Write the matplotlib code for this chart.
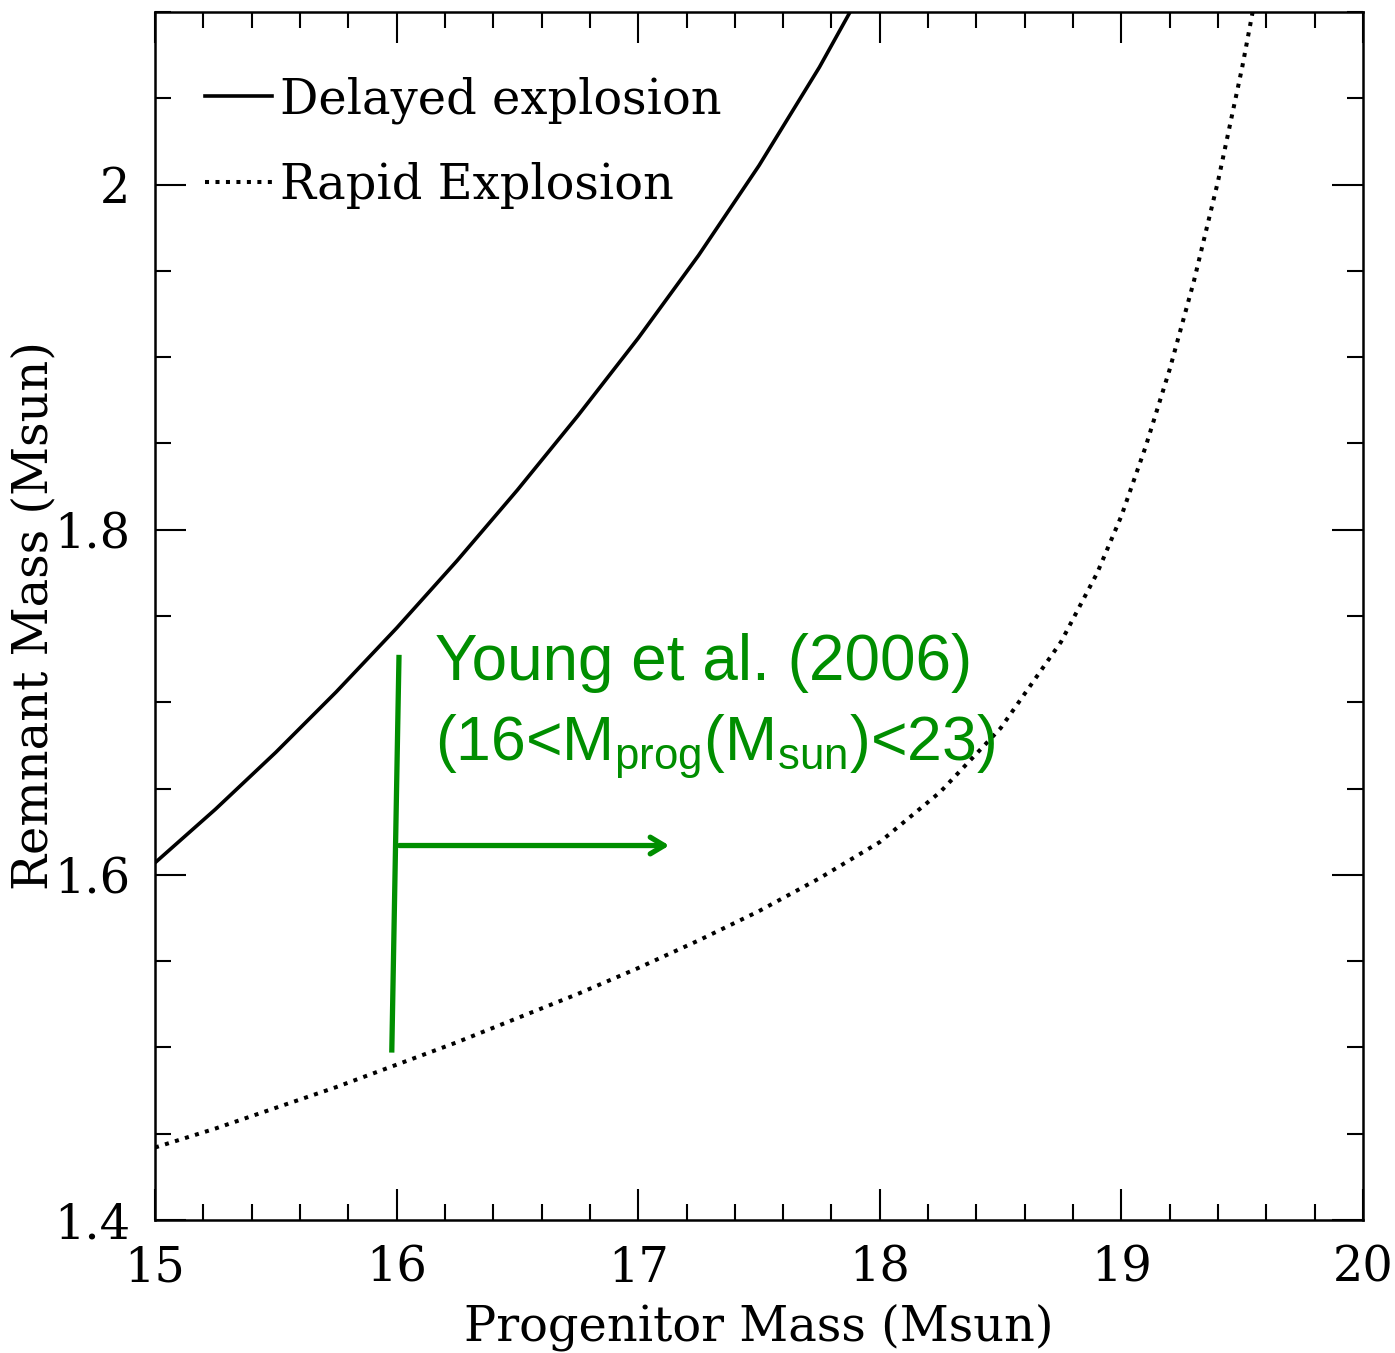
import numpy as np
import matplotlib
matplotlib.use("Agg")
import matplotlib.pyplot as plt
from matplotlib.ticker import MultipleLocator, FixedLocator

plt.rcParams['mathtext.fontset'] = 'custom'
plt.rcParams['mathtext.rm'] = 'Liberation Sans'
plt.rcParams['mathtext.it'] = 'Liberation Sans'

# delayed explosion curve
delayed_x = [15.0, 15.25, 15.5, 15.75, 16.0, 16.25, 16.5, 16.75, 17.0, 17.25, 17.5, 17.75, 18.0]
delayed_y = [1.607, 1.638, 1.671, 1.706, 1.743, 1.782, 1.823, 1.866, 1.911, 1.959, 2.011, 2.068, 2.131]

# rapid explosion curve
rapid_x = [15.0, 15.25, 15.5, 15.75, 16.0, 16.25, 16.5, 16.75, 17.0, 17.25, 17.5, 17.75, 18.0,
           18.25, 18.5, 18.75, 18.9, 19.0, 19.1, 19.2, 19.3, 19.4, 19.5, 19.6]
rapid_y = [1.442, 1.453, 1.465, 1.477, 1.490, 1.503, 1.517, 1.531, 1.546, 1.562, 1.579, 1.598, 1.619,
           1.648, 1.685, 1.735, 1.775, 1.808, 1.848, 1.893, 1.944, 2.002, 2.068, 2.142]

xticks = [15, 16, 17, 18, 19, 20]
yticks = [1.4, 1.6, 1.8, 2.0]
ytick_labels = ['1.4', '1.6', '1.8', '2']

# Young et al. (2006) marker
young_bar_x = [15.98, 16.01]
young_bar_y = [1.497, 1.7275]
young_arrow_from = (16.0, 1.617)
young_arrow_to = (17.14, 1.617)

green = '#008e00'
serif = 'DejaVu Serif'
fs = 34.5

fig = plt.figure(figsize=(13.95, 13.53), dpi=100)
ax = fig.add_axes([155/1395, 1 - 1220/1353, 1208/1395, 1208/1353])

ax.plot(delayed_x, delayed_y, color='black', lw=2.6, label='Delayed explosion')
ax.plot(rapid_x, rapid_y, color='black', lw=2.9, linestyle=(0, (1.0, 1.6)), label='Rapid Explosion')

ax.set_xlim(15, 20)
ax.set_ylim(1.4, 2.1)

ax.xaxis.set_major_locator(FixedLocator(xticks))
ax.yaxis.set_major_locator(FixedLocator(yticks))
ax.xaxis.set_minor_locator(MultipleLocator(0.2))
ax.yaxis.set_minor_locator(MultipleLocator(0.05))
ax.set_xticklabels([str(t) for t in xticks], fontfamily=serif, fontsize=fs)
ax.set_yticklabels(ytick_labels, fontfamily=serif, fontsize=fs)
ax.tick_params(which='both', direction='in', top=True, right=True, width=1.5, colors='black')
ax.tick_params(which='major', length=22, pad=18)
ax.tick_params(which='minor', length=11.5)
for s in ax.spines.values():
    s.set_linewidth(1.8)

ax.set_xlabel('Progenitor Mass (Msun)', fontfamily=serif, fontsize=fs, labelpad=8)
ax.set_ylabel('Remnant Mass (Msun)', fontfamily=serif, fontsize=fs)
ax.yaxis.set_label_coords(-0.081, 0.5)

leg = ax.legend(loc='upper left', bbox_to_anchor=(0.0414, 0.947), frameon=False,
                handlelength=1.4, handletextpad=0.17, labelspacing=0.8,
                borderpad=0, borderaxespad=0, prop={'family': serif, 'size': fs})

# green annotation
ax.plot(young_bar_x, young_bar_y, color=green, lw=3.8, solid_capstyle='butt')
ax.annotate('', xy=young_arrow_to, xytext=young_arrow_from,
            arrowprops=dict(arrowstyle='->,head_length=1.0,head_width=0.6', color=green, lw=3.8))
ax.text(16.159, 1.713, 'Young et al. (2006)', color=green, fontsize=46,
        fontfamily='Liberation Sans', va='baseline', ha='left')
ax.text(16.159, 1.6667, r'(16<M$_\mathrm{prog}$(M$_\mathrm{sun}$)<23)', color=green, fontsize=45,
        fontfamily='Liberation Sans', va='baseline', ha='left')

fig.savefig('out.png', dpi=100)
